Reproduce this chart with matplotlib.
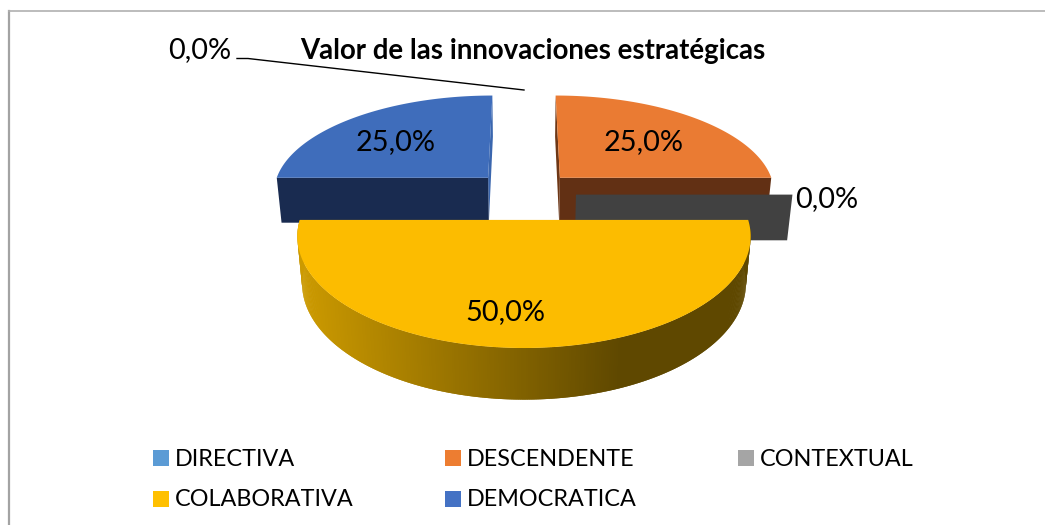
#!/usr/bin/env python3
import numpy as np
import matplotlib
matplotlib.use('Agg')
import matplotlib.pyplot as plt
from matplotlib.colors import to_rgb
from matplotlib.patches import Rectangle

# chart data
categories = ['DIRECTIVA', 'DESCENDENTE', 'CONTEXTUAL', 'COLABORATIVA', 'DEMOCRATICA']
values = [0.0, 25.0, 0.0, 50.0, 25.0]
value_labels = ['0,0%', '25,0%', '0,0%', '50,0%', '25,0%']
legend_colors = ['#5B9BD5', '#ED7D31', '#A5A5A5', '#FFC000', '#4472C4']
title = 'Valor de las innovaciones estratégicas'

# colours of the 3D faces
top_colors = ['#5B9BD5', '#EA7B33', '#A5A5A5', '#FCBC00', '#3F6DBB']
wall_colors = ['#2E4E6B', '#623014', '#414141', '#5F4800', '#192B50']
side_colors = ['#2E4E6B', '#6E3716', '#414141', '#5F4800', '#3A66AE']

# perspective of the pie, in pixels
cx, cy = 524.0, 221.0
a, b = 224.5, 109.5
k, m = 0.148, 0.021
c = 47.8
center_v = 0.25
explode = 0.24
back_radius = 0.96

font = 'Lato'
W, H = 1045, 525


# Pie coordinates (u right, v to the back, z down) to pixels
def project(u, v, z=0.0):
    u, v = np.asarray(u, float), np.asarray(v, float)
    w = 1 + k*v + m*z
    return cx + a*u/w, cy + (-b*v + c*z)/w


# Apex of a slice and its start/end angles, clockwise from 12 o'clock
def slice_geometry(total):
    starts = 90 - 360*np.cumsum([0] + values[:-1])/total
    ends = starts - 360*np.array(values)/total
    mids = np.radians((starts + ends)/2)
    apex_u = explode*np.cos(mids)
    apex_v = center_v + explode*np.sin(mids)
    return starts, ends, apex_u, apex_v


# Point on the rim of a slice; the back of the pie is a bit shorter
def rim(u0, v0, angle):
    t = np.radians(angle)
    sin_t = np.sin(t)
    return u0 + np.cos(t), v0 + sin_t*np.where(sin_t > 0, back_radius, 1.0)


# Straight wall from the apex out to the rim at the given angle
def draw_wall(ax, u0, v0, angle, color, zorder):
    u1, v1 = rim(u0, v0, angle)
    x = [project(u0, v0)[0], project(u1, v1)[0], project(u1, v1, 1)[0], project(u0, v0, 1)[0]]
    y = [project(u0, v0)[1], project(u1, v1)[1], project(u1, v1, 1)[1], project(u0, v0, 1)[1]]
    ax.fill(x, y, color=color, lw=0, zorder=zorder)


fig = plt.figure(figsize=(W/100, H/100), dpi=100)
ax = fig.add_axes([0, 0, 1, 1])
ax.set_xlim(0, W)
ax.set_ylim(H, 0)
ax.axis('off')

# chart frame, only the left and top sides show
ax.plot([9, 9], [525, 10.5], color='#a3a3a3', lw=1.6, zorder=1)
ax.plot([9, 1045], [10.5, 10.5], color='#b0b0b0', lw=1.2, zorder=1)

starts, ends, apex_u, apex_v = slice_geometry(sum(values))

draw_order = [1, 4, 2, 3]
for n, i in enumerate(draw_order):
    z_base = 2 + n*2
    if values[i] == 0:
        # a slice of 0% only shows as one flat wall
        draw_wall(ax, apex_u[i], apex_v[i], starts[i], wall_colors[i], z_base)
        continue
    angles = np.linspace(starts[i], ends[i], 361)
    u, v = rim(apex_u[i], apex_v[i], angles)
    if values[i] >= 50:
        # rim of the big slice, shaded from left to right
        dark = np.array(to_rgb('#5F4800'))
        light = np.array(to_rgb('#CC9A00'))
        # each strip overlaps the one before it, so no seams show
        for j in range(len(angles) - 1):
            x0, y0 = project(u[j:j+3], v[j:j+3])
            x1, y1 = project(u[j:j+3], v[j:j+3], 1)
            frac = np.clip((x0.mean() - 300)/(620 - 300), 0, 1)
            ax.fill(np.r_[x0, x1[::-1]], np.r_[y0, y1[::-1]], color=light + (dark - light)*frac,
                    lw=0, zorder=z_base)
    else:
        # side wall first, the front wall goes over it
        at_top = abs((starts[i] - 90) % 360) < 1
        side = starts[i] if at_top else ends[i]
        front = ends[i] if at_top else starts[i]
        draw_wall(ax, apex_u[i], apex_v[i], side, side_colors[i], z_base)
        draw_wall(ax, apex_u[i], apex_v[i], front, wall_colors[i], z_base)
    x, y = project(np.r_[apex_u[i], u], np.r_[apex_v[i], v])
    ax.fill(x, y, color=top_colors[i], lw=0, zorder=z_base + 1)

# data labels
label_pos = [(200, 50.5), (644, 142), (826.5, 199), (505, 312), (396, 142)]
for i in range(len(categories)):
    ax.text(label_pos[i][0], label_pos[i][1], value_labels[i], fontsize=20.8, family=font,
            ha='center', va='center', color='black', zorder=20)

# leader line of the 0% slice at the top
tip_x, tip_y = project(*rim(apex_u[0], apex_v[0], 90))
ax.plot([237, 248, tip_x], [58.5, 58.5, 90], color='black', lw=1.0, zorder=20)

ax.text(533, 51.5, title, fontsize=19.9, fontweight='bold', family=font, ha='center', va='center', zorder=20)

# legend, drawn by hand to keep the columns where they are
legend_x = [153, 445, 738, 153, 445]
legend_y = [458, 458, 458, 499, 499]
for i in range(len(categories)):
    ax.add_patch(Rectangle((legend_x[i], legend_y[i] - 8), 16, 16, color=legend_colors[i], lw=0, zorder=20))
    ax.text(legend_x[i] + 22, legend_y[i] + 1, categories[i], fontsize=16.8, family=font,
            ha='left', va='center', color='black', zorder=20)

fig.savefig('out.png', dpi=100)
